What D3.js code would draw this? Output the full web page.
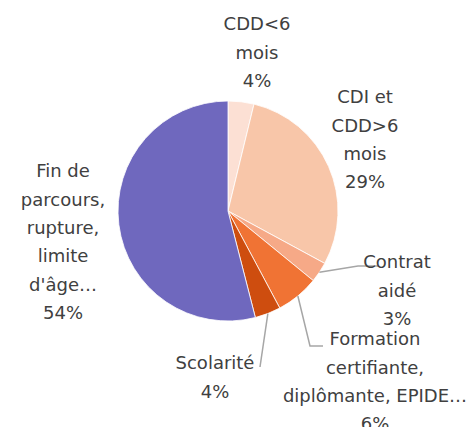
<!DOCTYPE html>
<html>
<head>
<meta charset="utf-8">
<script src="https://cdn.jsdelivr.net/npm/d3@7"></script>
<style>
  body { margin: 0; background: #fff; }
  svg text { font-family: 'DejaVu Sans', sans-serif; font-size: 18px; fill: #404040; }
</style>
</head>
<body>
<script>
'use strict';

// slices, clockwise from 12 o'clock
const categories = [
  ['CDD<6', 'mois'],
  ['CDI et', 'CDD>6', 'mois'],
  ['Contrat', 'aidé'],
  ['Formation', 'certifiante,', 'diplômante, EPIDE…'],
  ['Scolarité'],
  ['Fin de', 'parcours,', 'rupture,', 'limite', "d'âge…"]
];
const values = [3.8, 29.1, 3.0, 6.3, 3.8, 54.0];
const colors = ['#fce0d4', '#f8c6a9', '#f6a987', '#f07334', '#ce4d0f', '#6f68be'];

// label centres (first line) relative to pie centre, and leader elbows
const labelPos = [
  { x: 29, y: -187 },
  { x: 137, y: -114 },
  { x: 169, y: 51 },
  { x: 147, y: 128 },
  { x: -13, y: 152 },
  { x: -165, y: -40 }
];
const leaders = [
  null,
  null,
  [[130, 55], [150, 55]],
  [[82, 135], [95, 135]],
  [[32, 156]],
  null
];

window.onload = function() {
  const width = 466;
  const height = 427;
  const cx = 228;
  const cy = 211;
  const radius = 110;
  const lineH = 28.3;

  const svg = d3.select('body')
    .append('svg')
    .attr('width', width)
    .attr('height', height);

  const g = svg.append('g')
    .attr('transform', 'translate(' + cx + ',' + cy + ')');

  const pie = d3.pie().sort(null).value(d => d);
  const arcs = pie(values);
  const arc = d3.arc().innerRadius(0).outerRadius(radius);

  g.selectAll('path.slice')
    .data(arcs)
    .enter()
    .append('path')
    .attr('class', 'slice')
    .attr('d', arc)
    .attr('fill', (d, i) => colors[i])
    .attr('stroke', '#fff')
    .attr('stroke-width', 0.8);

  // leader lines from the slice edge to the label
  arcs.forEach((d, i) => {
    if (!leaders[i]) return;
    const mid = (d.startAngle + d.endAngle) / 2;
    const start = [Math.sin(mid) * radius, -Math.cos(mid) * radius];
    g.append('path')
      .attr('d', d3.line()([start].concat(leaders[i])))
      .attr('fill', 'none')
      .attr('stroke', '#a6a6a6')
      .attr('stroke-width', 1.5);
  });

  // labels: category lines + rounded percent
  arcs.forEach((d, i) => {
    const lines = categories[i].concat([Math.round(values[i]) + '%']);
    const t = g.append('text')
      .attr('text-anchor', 'middle')
      .attr('x', labelPos[i].x)
      .attr('y', labelPos[i].y);
    lines.forEach((ln, j) => {
      t.append('tspan')
        .attr('x', labelPos[i].x)
        .attr('dy', j === 0 ? '0.35em' : lineH)
        .text(ln);
    });
  });
};
</script>
</body>
</html>
